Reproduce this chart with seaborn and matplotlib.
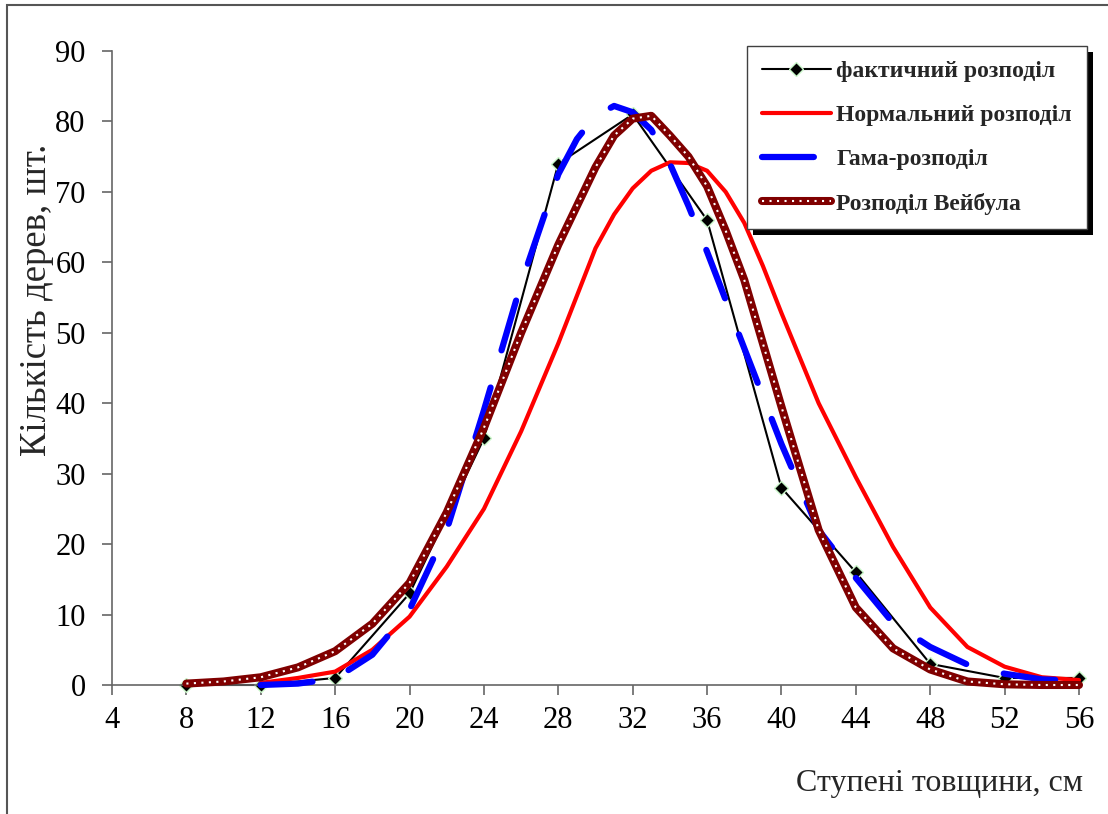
import matplotlib
matplotlib.use("Agg")
import matplotlib.pyplot as plt
import seaborn as sns
from matplotlib.patches import Rectangle
from matplotlib.legend_handler import HandlerTuple

# ---- data ----
x_act = [8, 12, 16, 20, 24, 28, 32, 36, 40, 44, 48, 52, 56]
y_act = [0, 0, 1, 13, 35, 74, 81, 66, 28, 16, 3, 1, 1]

x_norm = [12, 14, 16, 18, 20, 22, 24, 26, 28, 30, 31, 32, 33, 34, 35, 36, 37, 38, 39, 40, 42, 44, 46, 48, 50, 52, 54, 56]
y_norm = [0.3, 1.0, 1.9, 5.0, 9.7, 16.8, 25, 36, 48.5, 62, 66.8, 70.5, 73, 74.2, 74.1, 73, 70, 65.6, 59.5, 52.8, 40, 29.5, 19.6, 11, 5.4, 2.6, 1.1, 0.7]

x_gam = [12, 14, 16, 18, 20, 22, 24, 26, 28, 29, 30, 31, 32, 33, 34, 35, 36, 38, 40, 42, 44, 46, 48, 50, 52, 54, 56]
y_gam = [0, 0.2, 0.9, 4.3, 10.7, 22, 39, 57, 72.5, 77.5, 80.8, 82.2, 81.3, 78.8, 74, 68, 61.5, 47.8, 34.2, 22, 15.2, 8.8, 5.4, 2.9, 1.6, 0.8, 0.6]

x_wei = [8, 10, 12, 14, 16, 18, 20, 22, 24, 26, 28, 30, 31, 32, 33, 34, 35, 36, 37, 38, 39, 40, 42, 44, 46, 48, 50, 52, 54, 56]
y_wei = [0.2, 0.5, 1.1, 2.5, 4.8, 8.7, 14.5, 24.5, 36.5, 50, 62.5, 73.5, 78, 80.4, 80.8, 78, 75, 70.8, 64.5, 57.5, 48.5, 39.5, 22, 11, 5.2, 2.2, 0.5, 0.1, 0, 0]

labels = ["фактичний розподіл", "Нормальний розподіл", "Гама-розподіл", "Розподіл Вейбула"]
x_ticks = list(range(4, 57, 4))
y_ticks = list(range(0, 91, 10))
x_label = "Ступені товщини, см"
y_label = "Кількість дерев, шт."

# ---- style ----
sns.set_style("ticks")
plt.rcParams["font.family"] = ["Liberation Serif", "DejaVu Serif"]

W, H = 1108, 814
fig = plt.figure(figsize=(W / 100, H / 100), dpi=100)
ax = fig.add_axes([112 / W, 1 - 685 / H, (1079 - 112) / W, (685 - 51) / H])
ax.set_facecolor("white")

l_act = sns.lineplot(x=x_act, y=y_act, ax=ax, color="black", lw=1.5, marker="D",
                     markersize=7.5, markerfacecolor="black", markeredgecolor="#c8f5c8",
                     markeredgewidth=1.0, clip_on=False, zorder=2).get_lines()[-1]
l_norm = sns.lineplot(x=x_norm, y=y_norm, ax=ax, color="#ff0000", lw=3.0,
                      clip_on=False, zorder=3).get_lines()[-1]
l_gam = sns.lineplot(x=x_gam, y=y_gam, ax=ax, color="#0000ff", lw=4.5,
                     linestyle=(0, (8.3, 6.2)), dash_capstyle="round",
                     solid_capstyle="round", clip_on=False, zorder=4).get_lines()[-1]
l_wei = sns.lineplot(x=x_wei, y=y_wei, ax=ax, color="#800000", lw=5.8,
                     solid_capstyle="round", clip_on=False, zorder=5).get_lines()[-1]
l_wei_d = sns.lineplot(x=x_wei, y=y_wei, ax=ax, color="white", lw=1.5,
                       linestyle=(0, (1, 2.6)), dash_capstyle="butt",
                       clip_on=False, zorder=6).get_lines()[-1]

ax.set_xlim(4, 56)
ax.set_ylim(0, 90)
ax.set_xticks(x_ticks)
ax.set_yticks(y_ticks)
sns.despine(ax=ax)
for s in ["left", "bottom"]:
    ax.spines[s].set_color("#666666")
    ax.spines[s].set_linewidth(1.2)
ax.tick_params(axis="both", direction="out", length=7, width=1.2, color="#666666",
               labelsize=22, labelcolor="black")
ax.tick_params(axis="y", pad=12)
ax.tick_params(axis="x", pad=8)

ax.set_xlabel(x_label, fontsize=23, loc="right")
ax.xaxis.set_label_coords((1083 - 112) / (1079 - 112), (685 - 783) / (685 - 51))
ax.xaxis.label.set_va("center")
ax.xaxis.label.set_ha("right")
ax.set_ylabel(y_label, fontsize=26.5)
ax.yaxis.set_label_coords((37 - 112) / (1079 - 112), (685 - 300) / (685 - 51))
ax.yaxis.label.set_va("center")

handles = [l_act, l_norm, l_gam, (l_wei, l_wei_d)]
leg = ax.legend(handles, labels, loc="upper left",
                bbox_to_anchor=(747 / W, 1 - 46 / H), bbox_transform=fig.transFigure,
                borderaxespad=0, frameon=True, fancybox=False, framealpha=1,
                edgecolor="#404040", prop={"family": "Liberation Serif", "weight": "bold", "size": 17},
                handlelength=2.95, handletextpad=0.22, labelspacing=0.95, borderpad=0.62,
                handler_map={tuple: HandlerTuple(ndivide=1, pad=0)})
leg.get_frame().set_linewidth(1.0)
leg.set_zorder(10)

# legend shadow
fig.canvas.draw()
bb = leg.get_window_extent()
off = 6
shadow = Rectangle(((bb.x0 + off) / W, (bb.y0 - off) / H), bb.width / W, bb.height / H,
                   transform=fig.transFigure, facecolor="black", edgecolor="none",
                   zorder=9.9, clip_on=False)
ax.add_patch(shadow)
ax.set_xlim(4, 56)
ax.set_ylim(0, 90)

# outer chart-area border
fig.add_artist(Rectangle((7 / W, -0.1), 1.2, (1 - 5 / H) + 0.1, transform=fig.transFigure,
                         fill=False, edgecolor="#555555", lw=1.5))

fig.savefig("out.png", dpi=100)
